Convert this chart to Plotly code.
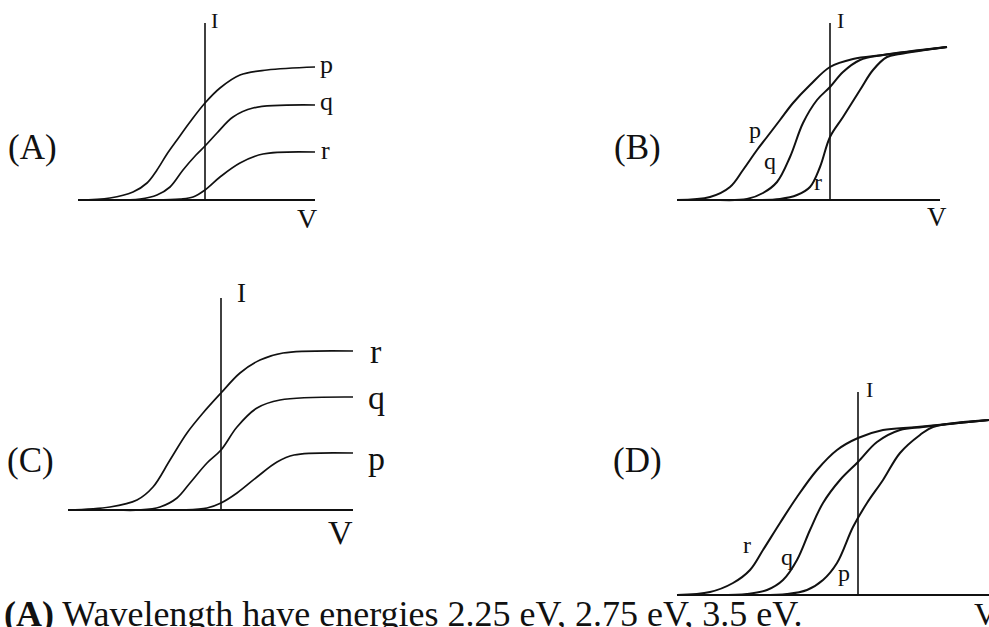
import plotly.graph_objects as go

W, H = 989, 627

# ---------------- data (V, I in arbitrary units) ----------------
# Panel A
A_p_V = [-12.7, -9.5, -7.2, -5.8, -4.8, -3.8, -2.8, -1.5, 0.0, 1.5, 3.5, 6.2, 11.0]
A_p_I = [0.0, 0.2, 0.8, 1.7, 3.0, 4.6, 6.0, 7.8, 9.7, 11.2, 12.5, 13.0, 13.3]
A_q_V = [-9.0, -6.5, -4.8, -3.5, -2.2, -0.9, 0.0, 1.2, 2.8, 4.8, 11.0]
A_q_I = [0.0, 0.1, 0.5, 1.3, 3.0, 4.5, 5.4, 6.7, 8.3, 9.2, 9.5]
A_r_V = [-5.0, -2.5, -1.2, 0.0, 1.5, 3.5, 5.8, 11.0]
A_r_I = [0.0, 0.1, 0.3, 1.0, 2.3, 3.7, 4.6, 4.8]

# Panel B
B_p_V = [-15.3, -12.0, -10.0, -8.7, -7.3, -6.3, -5.0, -3.7, -2.0, 0.0, 2.3, 5.3, 11.7]
B_p_I = [0.0, 0.3, 1.3, 3.0, 5.0, 6.3, 8.0, 9.7, 11.5, 13.3, 14.1, 14.5, 15.3]
B_q_V = [-11.0, -8.3, -6.7, -5.3, -4.0, -2.7, -1.3, 0.0, 1.3, 3.0, 5.3, 11.7]
B_q_I = [0.0, 0.1, 0.7, 1.8, 4.3, 7.7, 10.0, 11.3, 12.8, 14.0, 14.5, 15.3]
B_r_V = [-7.0, -5.0, -3.3, -2.0, -1.0, 0.0, 1.3, 3.0, 4.3, 5.7, 7.0, 11.7]
B_r_I = [0.0, 0.1, 0.5, 1.3, 3.3, 6.3, 8.3, 11.0, 13.0, 14.3, 14.6, 15.3]

# Panel C
C_r_V = [-15.3, -11.1, -8.4, -6.8, -5.1, -3.4, -1.8, 0.0, 1.9, 3.9, 6.2, 13.2]
C_r_I = [0.0, 0.3, 1.0, 2.3, 5.0, 7.7, 9.7, 11.7, 13.7, 15.0, 15.7, 15.9]
C_q_V = [-10.5, -8.1, -6.1, -4.4, -3.1, -1.4, 0.0, 1.6, 3.6, 5.9, 13.2]
C_q_I = [0.0, 0.0, 0.3, 1.2, 2.7, 4.7, 6.0, 8.3, 10.2, 11.0, 11.3]
C_p_V = [-6.0, -3.8, -1.4, 0.0, 1.6, 3.6, 5.6, 7.3, 13.2]
C_p_I = [0.0, 0.0, 0.2, 0.7, 1.7, 3.3, 4.8, 5.5, 5.7]

# Panel D
D_r_V = [-18.1, -14.8, -12.5, -10.8, -9.5, -7.8, -6.1, -4.1, -2.1, 0.0, 2.5, 5.9, 13.1]
D_r_I = [0.0, 0.3, 1.2, 2.5, 4.5, 7.2, 9.8, 12.5, 14.5, 15.7, 16.5, 16.8, 17.5]
D_q_V = [-14.0, -11.1, -9.1, -7.5, -6.1, -4.8, -3.5, -1.8, 0.0, 1.9, 4.2, 6.5, 13.1]
D_q_I = [0.0, 0.1, 0.5, 1.5, 3.5, 6.5, 9.2, 11.5, 13.3, 15.3, 16.5, 16.8, 17.5]
D_p_V = [-10.0, -7.1, -5.1, -3.5, -2.1, -0.5, 0.9, 2.5, 4.2, 6.2, 7.5, 13.1]
D_p_I = [0.0, 0.1, 0.5, 1.5, 3.2, 6.8, 9.2, 11.5, 14.2, 16.0, 16.8, 17.5]

# axis extents per panel (V from, V to, I top)
A_axis = (-12.7, 11.0, 17.7)
B_axis = (-15.3, 11.0, 17.7)
C_axis = (-15.3, 13.2, 21.2)
D_axis = (-18.1, 13.1, 20.3)

question_text = "<b>(A)</b> Wavelength have energies 2.25 eV, 2.75 eV, 3.5 eV."

# ---------------- layout helpers ----------------
SCALE = 10.0  # px per unit
FONT = "Liberation Serif"


def px(x):
    return x / W


def py(y):
    return 1 - y / H


# panel boxes: (left px, right px, top px, bottom px, origin x px, origin y px)
boxes = {
    "A": (70, 330, 15, 205, 205, 200),
    "B": (670, 955, 15, 205, 830, 200),
    "C": (60, 360, 290, 515, 221, 510),
    "D": (670, 989, 385, 600, 858, 595),
}

series = {
    "A": [(A_p_V, A_p_I), (A_q_V, A_q_I), (A_r_V, A_r_I)],
    "B": [(B_p_V, B_p_I), (B_q_V, B_q_I), (B_r_V, B_r_I)],
    "C": [(C_r_V, C_r_I), (C_q_V, C_q_I), (C_p_V, C_p_I)],
    "D": [(D_r_V, D_r_I), (D_q_V, D_q_I), (D_p_V, D_p_I)],
}
axes_ext = {"A": A_axis, "B": B_axis, "C": C_axis, "D": D_axis}
curve_w = {"A": 1.7, "B": 2.0, "C": 1.7, "D": 2.0}

fig = go.Figure()
shapes = []
layout_axes = {}
for i, key in enumerate(["A", "B", "C", "D"]):
    n = "" if i == 0 else str(i + 1)
    l, r, t, b, ox, oy = boxes[key]
    xr = [(l - ox) / SCALE, (r - ox) / SCALE]
    yr = [(oy - b) / SCALE, (oy - t) / SCALE]
    layout_axes["xaxis" + n] = dict(domain=[px(l), px(r)], range=xr, visible=False,
                                    anchor="y" + n, fixedrange=True)
    layout_axes["yaxis" + n] = dict(domain=[py(b), py(t)], range=yr, visible=False,
                                    anchor="x" + n, fixedrange=True)
    for V, I in series[key]:
        fig.add_trace(go.Scatter(x=V, y=I, mode="lines", xaxis="x" + n, yaxis="y" + n,
                                 line=dict(color="#111111", width=curve_w[key],
                                           shape="spline", smoothing=1.0),
                                 hoverinfo="skip", showlegend=False))
    v0, v1, itop = axes_ext[key]
    shapes.append(dict(type="line", xref="x" + n, yref="y" + n, x0=v0, x1=v1, y0=0, y1=0,
                       line=dict(color="#111111", width=2)))
    shapes.append(dict(type="line", xref="x" + n, yref="y" + n, x0=0, x1=0, y0=0, y1=itop,
                       line=dict(color="#111111", width=1.6)))


def label(text, x, y, size, xanchor="center", yanchor="middle"):
    return dict(text=text, x=px(x), y=py(y), xref="paper", yref="paper",
                showarrow=False, xanchor=xanchor, yanchor=yanchor,
                font=dict(family=FONT, size=size, color="#111111"))


annotations = [
    # panel letters
    label("(A)", 32, 147, 35), label("(B)", 637, 147, 35),
    label("(C)", 31, 460, 35), label("(D)", 637, 460, 35),
    # axis names
    label("I", 214, 21, 22), label("V", 307, 219, 28),
    label("I", 840, 21, 22), label("V", 937, 217, 27),
    label("I", 241, 293, 27), label("V", 340, 532, 34),
    label("I", 869, 389, 22), label("V", 985, 614, 32),
    # curve labels A
    label("p", 326, 64, 26), label("q", 326, 102, 26), label("r", 325, 151, 26),
    # curve labels B
    label("p", 755, 130, 24), label("q", 770, 161, 24), label("r", 818, 182, 24),
    # curve labels C
    label("r", 376, 351, 34), label("q", 376, 398, 34), label("p", 376, 458, 34),
    # curve labels D
    label("r", 747, 545, 24), label("q", 787, 557, 24), label("p", 844, 573, 24),
    # question line
    label(question_text, 2, 614, 36, xanchor="left"),
]

fig.update_layout(width=W, height=H, margin=dict(l=0, r=0, t=0, b=0),
                  paper_bgcolor="white", plot_bgcolor="rgba(0,0,0,0)",
                  showlegend=False, shapes=shapes, annotations=annotations,
                  **layout_axes)

fig.write_html("out.html",
               config={"displayModeBar": False, "staticPlot": True},
               post_script="document.body.style.margin='0';"
                           "document.body.style.overflow='hidden';")
